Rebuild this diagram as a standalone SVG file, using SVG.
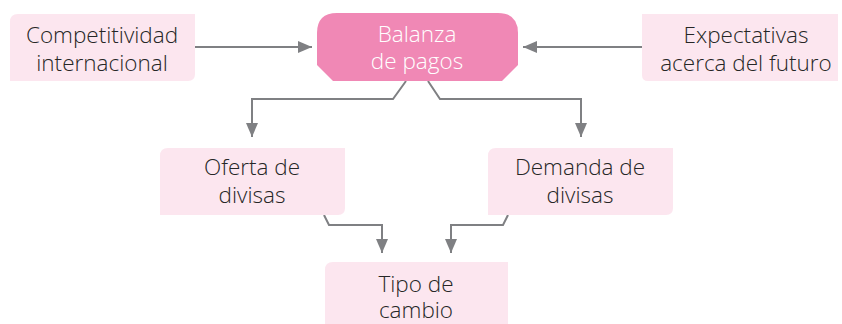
<svg xmlns="http://www.w3.org/2000/svg" width="842" height="324" viewBox="0 0 842 324">
<defs>
<marker id="ah" markerWidth="14" markerHeight="12" viewBox="0 0 14 12" refX="14" refY="6" orient="auto" markerUnits="userSpaceOnUse">
<path d="M0,0 L14,6 L0,12 Z" fill="#7f8083"/>
</marker>
<style>
.box{fill:#fce6ef}
.t{font-family:"Open Sans",Lato,sans-serif;font-size:22.5px;font-weight:300;fill:#262626;text-anchor:middle}
.w{fill:#fff}
.c{fill:none;stroke:#7f8083;stroke-width:2;marker-end:url(#ah)}
</style>
</defs>
<rect width="842" height="324" fill="#fff"/>
<g id="connectors">
<path class="c" d="M195,47 H312"/>
<path class="c" d="M642,47 H523"/>
<path class="c" d="M406,81 L393,99 H252 V137"/>
<path class="c" d="M428,81 L440,99 H581 V137"/>
<path class="c" d="M324,215 L329,225 H382 V253"/>
<path class="c" d="M508,215 L503,225 H451 V253"/>
</g>
<g id="competitividad">
<path class="box" d="M18,14 H195 V74 Q195,81 188,81 H10 V22 Q10,14 18,14 Z"/>
<text class="t" x="102" y="43">Competitividad</text>
<text class="t" x="102" y="71">internacional</text>
</g>
<g id="balanza">
<path d="M337,13 H498 Q518,13 518,33 V65 L502,81 H333 L317,65 V33 Q317,13 337,13 Z" fill="#f088b5"/>
<text class="t w" x="417" y="42">Balanza</text>
<text class="t w" x="417" y="69">de pagos</text>
</g>
<g id="expectativas">
<path class="box" d="M642,14 H838 V81 H648 Q642,81 642,75 Z"/>
<text class="t" x="746" y="43">Expectativas</text>
<text class="t" x="746" y="71">acerca del futuro</text>
</g>
<g id="oferta">
<path class="box" d="M168,148 H345 V208 Q345,215 338,215 H160 V156 Q160,148 168,148 Z"/>
<text class="t" x="252" y="175">Oferta de</text>
<text class="t" x="252" y="203">divisas</text>
</g>
<g id="demanda">
<path class="box" d="M496,148 H673 V208 Q673,215 666,215 H488 V156 Q488,148 496,148 Z"/>
<text class="t" x="580" y="175">Demanda de</text>
<text class="t" x="580" y="203">divisas</text>
</g>
<g id="tipo">
<path class="box" d="M333,262 H508 V324 H325 V270 Q325,262 333,262 Z"/>
<text class="t" x="416" y="292">Tipo de</text>
<text class="t" x="416" y="318">cambio</text>
</g>
</svg>
